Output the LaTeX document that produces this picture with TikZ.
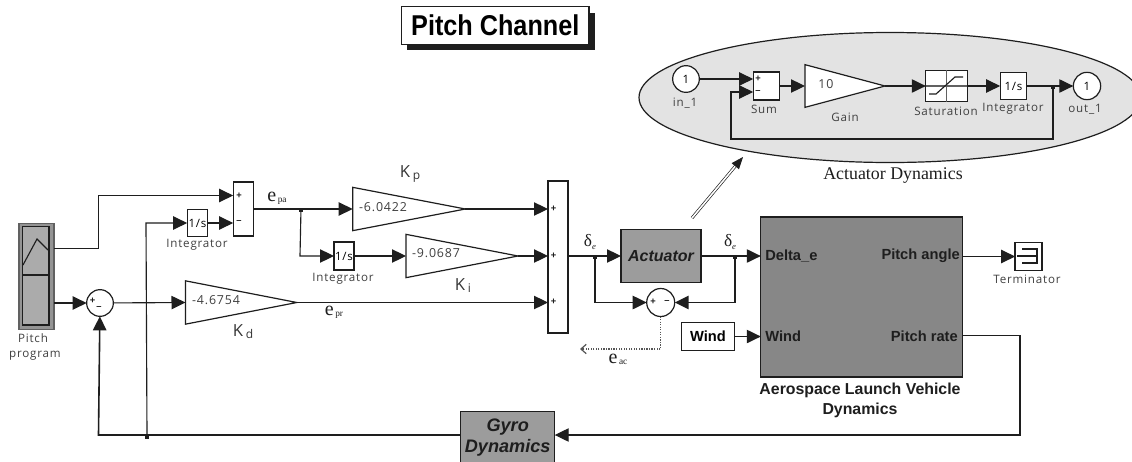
\documentclass[tikz,border=0pt]{standalone}
\usepackage{fontspec}
\setmainfont{Liberation Serif}
\setsansfont{Liberation Sans}
\newfontfamily\lblfont[LetterSpace=7]{Open Sans}
\newfontfamily\titlefont[FakeStretch=.88]{Liberation Sans}
\usetikzlibrary{arrows.meta,shapes.geometric}
\definecolor{ink}{HTML}{1E1E1E}
\tikzset{
  wire/.style={draw=ink,line width=.85pt},
  thick wire/.style={draw=ink,line width=1.2pt},
  tip/.style={-{Triangle[length=10.5pt,width=10pt]}},
  sig/.style={wire,tip},
  block/.style={draw=ink,line width=.9pt,fill=white,inner sep=0pt,outer sep=0pt,
     minimum width=#1},
  circ/.style={draw=ink,line width=.9pt,fill=white,circle,inner sep=0pt,outer sep=0pt,
     minimum size=#1},
  gain/.style={draw=ink,line width=.9pt,fill=white,isosceles triangle,isosceles triangle stretches,
     inner sep=0pt,outer sep=0pt,anchor=lower side},
  jdot/.style={fill=ink,inner sep=0pt,minimum size=2.4pt,outer sep=0pt},
  lbl/.style={inner sep=0pt,font=\lblfont\fontsize{8.7}{10}\selectfont,text=ink!85},
  num/.style={inner sep=0pt,font=\lblfont\fontsize{9.3}{11}\selectfont,text=ink!85},
  gk/.style={inner sep=0pt,font=\lblfont\fontsize{12.5}{14}\selectfont,text=ink!90},
  sgn/.style={inner sep=0pt,font=\sffamily\bfseries\fontsize{7}{8}\selectfont,text=ink},
  ser/.style={inner sep=0pt,font=\fontsize{13}{15}\selectfont,text=ink},
  eee/.style={inner sep=0pt,font=\fontsize{15}{15}\selectfont,text=ink},
  port/.style={inner sep=0pt,font=\sffamily\bfseries\fontsize{11}{13}\selectfont,text=ink},
  sysb/.style={inner sep=0pt,font=\sffamily\bfseries\fontsize{11.9}{15.5}\selectfont,text=ink,align=center},
  bigb/.style={draw=ink,line width=.9pt,inner sep=0pt,outer sep=0pt,align=center,
     font=\sffamily\bfseries\itshape\fontsize{13.6}{15.8}\selectfont,text=ink},
}
\newcommand{\ssub}[2]{#1\raisebox{-.5pt}{\fontsize{7}{8}\selectfont #2}}
\begin{document}
\begin{tikzpicture}[x=.75pt,y=-.75pt]
\useasboundingbox[fill=white] (0,0) rectangle (1132,461);
% title
\fill[ink] (407,13) rectangle (595,50);
\node[draw=ink,line width=.9pt,fill=white,minimum width=140.5pt,minimum height=28pt,inner sep=0pt,
  font=\titlefont\bfseries\fontsize{21.5}{24}\selectfont] (title) at (495.3,25.5) {Pitch Channel};
% actuator ellipse
\begin{scope}
\clip (600,0) rectangle (1132,200);
\node[draw=ink,line width=.9pt,fill=black!11,ellipse,minimum width=376.5pt,minimum height=97.5pt,inner sep=0pt,outer sep=0pt] (ell) at (890,97.5) {};
\end{scope}
\node[circ=20pt,font=\lblfont\fontsize{8.6}{10}\selectfont] (in1) at (686,79) {1};
\node[block=20pt,minimum height=21pt] (asum) at (766.5,86) {};
\node[sgn,anchor=center] (asump) at (758,79) {+};
\node[sgn] (asumm) at (758,92) {--};
\node[gain,minimum height=60pt,minimum width=32pt] (again) at (805,86) {};
\node[num] (againt) at (826,84) {10};
\node[block=31pt,minimum height=23.5pt] (sat) at (946.5,86) {};
\draw[wire,ink!70] (sat.north) -- (sat.south) (sat.west) -- (sat.east);
\coordinate (sa) at (929,94); \coordinate (sb) at (936,94); \coordinate (sc) at (955,77); \coordinate (sd) at (963,77);
\draw[wire] (sa) -- (sb) -- (sc) -- (sd);
\node[block=20pt,minimum height=20pt,font=\lblfont\fontsize{8.6}{10}\selectfont] (aint) at (1013.5,86) {1/s};
\node[circ=20.5pt,font=\lblfont\fontsize{8.6}{10}\selectfont] (out1) at (1087,86) {1};
\node[jdot] (j4) at (1053,87) {};
\coordinate (fbt) at (731,92); \coordinate (fbl) at (731,139); \coordinate (fbr) at (1053,139);
\draw[sig] (in1) -- (asum.west |- in1);
\draw[sig] (asum) -- (again.lower side);
\draw[sig] (again.apex) -- (sat);
\draw[sig] (sat) -- (aint);
\draw[sig] (aint) -- (out1);
\draw[sig] (j4.north) -- (fbr) -- (fbl) -- (fbt) -- (asum.west |- fbt);
\node[lbl] (l1) at (685,103) {in\_1};
\node[lbl] (l2) at (764,109) {Sum};
\node[lbl] (l3) at (845,117) {Gain};
\node[lbl] (l4) at (946,111) {Saturation};
\node[lbl] (l5) at (1013,109) {Integrator};
\node[lbl] (l6) at (1085,109) {out\_1};
\node[inner sep=0pt,font=\fontsize{13.4}{15}\selectfont,text=ink] (actdyn) at (893,176) {Actuator Dynamics};
% pitch program
\node[draw=ink!70,line width=.9pt,fill=black!42,inner sep=0pt,outer sep=0pt,minimum width=26.2pt,minimum height=80pt] (pp) at (36.5,276.5) {};
\node[draw=ink,line width=.9pt,fill=black!33,inner sep=0pt,minimum width=20pt,minimum height=36.4pt] (ppa) at (35.7,250.7) {};
\node[draw=ink,line width=.9pt,fill=black!33,inner sep=0pt,minimum width=20pt,minimum height=37.5pt] (ppb) at (35.7,300) {};
\coordinate (pa) at (23,265); \coordinate (pb) at (37,239); \coordinate (pc) at (48,250);
\draw[wire] (pa) -- (pb) -- (pc);
\node[lbl] (l7) at (33,338) {Pitch};
\node[lbl] (l8) at (35,356) {program};
% main blocks
\node[circ=20pt] (s1) at (100,303) {};
\node[sgn] (s1p) at (92.5,301) {+};
\node[sgn] (s1m) at (99,308) {--};
\node[block=15.5pt,minimum height=40.5pt] (s2) at (243.5,209) {};
\node[sgn] (s2p) at (239,195.5) {+};
\node[sgn] (s2m) at (239,222.5) {--};
\node[block=15.5pt,minimum height=20.5pt,font=\lblfont\fontsize{8.6}{10}\selectfont] (i1) at (197.5,223) {1/s};
\node[block=15pt,minimum height=21pt,font=\lblfont\fontsize{8.6}{10}\selectfont] (i2) at (344,256) {1/s};
\node[gain,minimum height=84.5pt,minimum width=32.5pt] (kp) at (352.7,209) {};
\node[gain,minimum height=84pt,minimum width=32.5pt] (ki) at (406,256) {};
\node[gain,minimum height=83.5pt,minimum width=32.5pt] (kd) at (185.5,302.5) {};
\node[num] (kpt) at (383,207) {-6.0422};
\node[num] (kit) at (436,253) {-9.0687};
\node[num] (kdt) at (216,300) {-4.6754};
\node[block=15pt,minimum height=114pt] (mux) at (558,257) {};
\node[sgn] (m1) at (553.5,209) {+};
\node[sgn] (m2) at (553.5,255.5) {+};
\node[sgn] (m3) at (553.5,302) {+};
\node[draw=ink,line width=.9pt,fill=black!39,minimum width=60pt,minimum height=39.5pt,inner sep=0pt,outer sep=0pt,
  font=\sffamily\bfseries\itshape\fontsize{12}{14}\selectfont,text=ink] (act) at (661,256) {Actuator};
\node[circ=21pt] (s3) at (660.7,302.5) {};
\node[sgn] (s3p) at (653,302) {+};
\node[sgn] (s3m) at (667,302) {--};
\node[block=40pt,minimum height=21.5pt,font=\sffamily\bfseries\fontsize{11}{13}\selectfont] (wind) at (708,336.5) {Wind};
\node[draw=ink,line width=.9pt,fill=black!47,minimum width=151pt,minimum height=120pt,inner sep=0pt,outer sep=0pt] (plant) at (861.5,297) {};
\node[port,anchor=west] (p1) at (765,256) {Delta\_e};
\node[port,anchor=west] (p2) at (765,336) {Wind};
\node[port,anchor=east] (p3) at (960,256) {Pitch angle};
\node[port,anchor=east] (p4) at (958,336) {Pitch rate};
\node[sysb] (plantt) at (860,400.5) {Aerospace Launch Vehicle\\Dynamics};
\node[block=20pt,minimum height=21pt,line width=1.1pt] (term) at (1028.5,256.5) {};
\coordinate (ta) at (1022,249); \coordinate (tb) at (1037,249); \coordinate (tc) at (1037,263); \coordinate (td) at (1022,263);
\coordinate (te) at (1017,256); \coordinate (tf) at (1037,256);
\draw[wire] (ta) -- (tb) -- (tc) -- (td) (te) -- (tf);
\node[lbl] (l9) at (1027,279) {Terminator};
\node[bigb,fill=black!39,minimum width=70.5pt,minimum height=38.5pt] (gyro) at (507.7,437.5) {Gyro\\Dynamics};
% labels
\node[lbl] (l10) at (197,245) {Integrator};
\node[lbl] (l11) at (343,279) {Integrator};
\node[gk] (kpl) at (410,174) {K\,\raisebox{-1.5pt}{\fontsize{9}{10}\selectfont p}};
\node[gk] (kil) at (463,286) {K\,\raisebox{-1.5pt}{\fontsize{9}{10}\selectfont i}};
\node[gk] (kdl) at (243,332) {K\,\raisebox{-1.5pt}{\fontsize{9}{10}\selectfont d}};
\node[eee] (epa) at (277,198) {\ssub{e}{\,pa}};
\node[eee] (epr) at (334,312) {\ssub{e}{\,pr}};
\node[eee] (eac) at (618,359) {\ssub{e}{\,ac}};
\node[ser] (d1) at (590,242) {δ\raisebox{-2pt}{\fontsize{6.5}{7}\selectfont\itshape e}};
\node[ser] (d2) at (730,242) {δ\raisebox{-2pt}{\fontsize{6.5}{7}\selectfont\itshape e}};
% junctions
\node[jdot] (j1) at (301,210) {};
\node[jdot] (j2) at (595,257) {};
\node[jdot] (j3) at (735,257) {};
\node[jdot] (j5) at (147,437) {};
% way-points
\coordinate (o1) at (54,248.5);
\coordinate (o2) at (54,303);
\coordinate (w1) at (98.5,248.5);
\coordinate (w2) at (98.5,195.5);
\coordinate (w3) at (146,223);
\coordinate (w4) at (300,256);
\coordinate (w5) at (593,302.5);
\coordinate (w6) at (733,302.5);
\coordinate (w7) at (660.7,349);
\coordinate (w8) at (580,349);
\coordinate (w9) at (1020,335.5);
\coordinate (w10) at (1020,435);
\coordinate (w11) at (98.5,435);
\coordinate (w12) at (962,335.5);
\coordinate (da) at (692,218);
\coordinate (db) at (743,157);
% connectors
\draw[sig] (o1) -- (w1) -- (w2) -- (s2.west |- w2);
\draw[sig] (o2) -- (s1);
\draw[sig] (s1) -- (kd.lower side);
\draw[sig] (i1) -- (s2.west |- i1);
\draw[sig] (j5.north) -- (w3) -- (i1);
\draw[sig] (s2.east) -- (kp.lower side);
\draw[sig] (kp.apex) -- (mux.west |- kp.apex);
\draw[sig] (j1.north) -- (w4) -- (i2);
\draw[sig] (i2) -- (ki.lower side);
\draw[sig] (ki.apex) -- (mux.west |- ki.apex);
\draw[sig] (kd.apex) -- (mux.west |- kd.apex);
\draw[sig] (mux.east |- act) -- (act);
\draw[sig] (act) -- (plant.west |- act);
\draw[thick wire,tip] (j2.north) -- (j2 |- w5) -- (s3);
\draw[thick wire,tip] (j3.north) -- (j3 |- w6) -- (s3);
\draw[sig] (wind) -- (plant.west |- wind);
\draw[sig] (plant.east |- term) -- (term);
\draw[sig] (w12) -- (w9) -- (w10) -- (gyro.east |- w10);
\draw[thick wire,tip] (gyro.west |- w10) -- (w11) -- (s1);
\draw[ink!75,line width=.9pt,densely dotted,-{Straight Barb[length=4pt,width=7pt]}] (s3) -- (w7) -- (w8);
\draw[ink,line width=.5pt,double=white,double distance=1.2pt,-{Triangle[length=9pt,width=7pt]}] (da) -- (db);
\end{tikzpicture}
\end{document}
